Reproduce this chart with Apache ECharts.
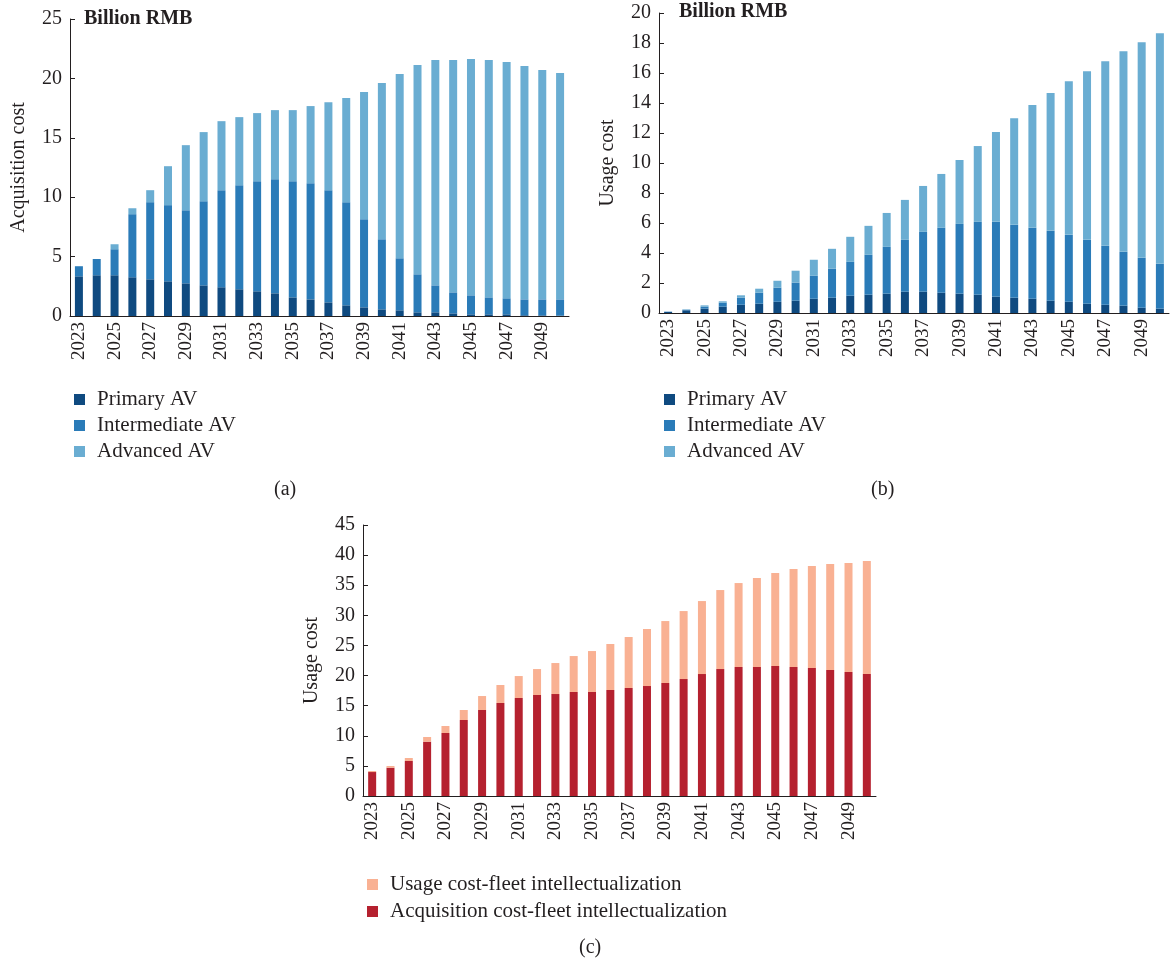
<!DOCTYPE html>
<html>
<head>
<meta charset="utf-8">
<script src="https://cdn.jsdelivr.net/npm/echarts@6/dist/echarts.min.js"></script>
<style>
  html, body { margin: 0; padding: 0; background: #fff; }
  #main { width: 1170px; height: 964px; }
</style>
</head>
<body>
<div id="main"></div>
<script>
// years on every x axis
let years = [];
for (let y = 2023; y <= 2050; y++) years.push(String(y));

// (a) acquisition cost, stacked pieces
let acqPrimary = [3.34, 3.43, 3.43, 3.26, 3.09, 2.92, 2.75, 2.58, 2.42, 2.25, 2.08, 1.91, 1.57, 1.40,
  1.15, 0.90, 0.73, 0.56, 0.48, 0.31, 0.31, 0.22, 0.14, 0.14, 0.14, 0.06, 0.05, 0.03];
let acqIntermediate = [0.85, 1.37, 2.19, 5.31, 6.49, 6.41, 6.15, 7.08, 8.17, 8.76, 9.27, 9.61, 9.78, 9.78,
  9.44, 8.68, 7.42, 5.90, 4.38, 3.20, 2.27, 1.77, 1.60, 1.43, 1.35, 1.34, 1.35, 1.37];
let acqAdvanced = [0, 0, 0.42, 0.50, 1.01, 3.28, 5.48, 5.82, 5.81, 5.73, 5.73, 5.81, 5.98, 6.49,
  7.41, 8.76, 10.70, 13.15, 15.51, 17.61, 18.96, 19.55, 19.89, 19.97, 19.89, 19.64, 19.30, 19.05];

// (b) usage cost, stacked pieces
let usePrimary = [0.07, 0.18, 0.29, 0.42, 0.55, 0.62, 0.75, 0.82, 0.95, 1.02, 1.15, 1.22, 1.29, 1.42,
  1.42, 1.35, 1.29, 1.22, 1.09, 1.02, 0.95, 0.82, 0.75, 0.62, 0.55, 0.49, 0.35, 0.29];
let useIntermediate = [0.02, 0.04, 0.13, 0.27, 0.47, 0.73, 0.94, 1.20, 1.53, 1.93, 2.26, 2.66, 3.12, 3.46,
  3.99, 4.33, 4.65, 4.86, 4.99, 4.86, 4.73, 4.66, 4.46, 4.26, 3.93, 3.59, 3.33, 2.99];
let useAdvanced = [0, 0.02, 0.09, 0.09, 0.16, 0.27, 0.46, 0.80, 1.07, 1.33, 1.67, 1.93, 2.26, 2.66,
  3.06, 3.59, 4.26, 5.05, 5.98, 7.11, 8.18, 9.18, 10.24, 11.24, 12.31, 13.37, 14.37, 15.37];

// (c) fleet totals
let fleetAcq = [3.98, 4.70, 5.81, 9.02, 10.46, 12.62, 14.28, 15.44, 16.27, 16.77, 16.93, 17.27, 17.27, 17.60,
  17.93, 18.26, 18.76, 19.42, 20.25, 21.08, 21.42, 21.42, 21.58, 21.42, 21.25, 20.92, 20.59, 20.25];
let fleetUse = [0.17, 0.28, 0.50, 0.78, 1.16, 1.66, 2.32, 2.99, 3.65, 4.31, 5.15, 5.97, 6.80, 7.64,
  8.47, 9.47, 10.29, 11.29, 12.12, 13.12, 13.94, 14.77, 15.44, 16.27, 16.93, 17.60, 18.09, 18.77];

let avNames = ["Primary AV", "Intermediate AV", "Advanced AV"];
let fleetNames = ["Usage cost-fleet intellectualization", "Acquisition cost-fleet intellectualization"];

const ink = "#231f20";
const font = "Liberation Serif";
const blues = ["#0f4a80", "#2a7bb8", "#6aadd2"];

function xAxisFor(grid) {
  return {
    type: "category",
    gridIndex: grid,
    data: years,
    axisLine: { lineStyle: { color: ink } },
    axisTick: { inside: true, length: 5, interval: 0, lineStyle: { color: ink } },
    axisLabel: { interval: 1, rotate: 90, margin: 6, color: ink, fontFamily: font, fontSize: 19 },
  };
}

function yAxisFor(grid, max, step, name) {
  return {
    type: "value",
    gridIndex: grid,
    min: 0,
    max: max,
    interval: step,
    name: name,
    nameLocation: "middle",
    nameGap: 41,
    nameTextStyle: { color: ink, fontFamily: font, fontSize: 20 },
    axisLine: { show: true, lineStyle: { color: ink } },
    axisTick: { show: true, inside: true, length: 5, lineStyle: { color: ink } },
    axisLabel: { margin: 8, color: ink, fontFamily: font, fontSize: 20 },
    splitLine: { show: false },
  };
}

function bar(name, data, grid, stack, color) {
  return {
    name: name,
    type: "bar",
    xAxisIndex: grid,
    yAxisIndex: grid,
    stack: stack,
    barWidth: 8,
    itemStyle: { color: color },
    data: data,
  };
}

function legendAt(left, top, names, gap) {
  return {
    orient: "vertical",
    left: left,
    top: top,
    data: names,
    icon: "rect",
    itemWidth: 11,
    itemHeight: 11,
    itemGap: gap,
    selectedMode: false,
    textStyle: { color: ink, fontFamily: font, fontSize: 21, padding: [0, 0, 0, 7] },
  };
}

function label(text, left, top, bold) {
  return {
    text: text,
    left: left,
    top: top,
    padding: 0,
    textStyle: { color: ink, fontFamily: font, fontSize: 20, fontWeight: bold ? "bold" : "normal" },
  };
}

var myChart = echarts.init(document.getElementById("main"));

var option = {
  animation: false,
  title: [
    label("Billion RMB", 84, 9, true),
    label("Billion RMB", 679, 2, true),
    label("(a)", 274, 480, false),
    label("(b)", 871, 480, false),
    label("(c)", 579, 938, false),
  ],
  legend: [
    legendAt(69, 384, avNames, 5),
    legendAt(659, 384, avNames, 5),
    legendAt(362, 869, fleetNames, 6),
  ],
  grid: [
    { left: 70, top: 19, width: 499, height: 297 },
    { left: 659, top: 13, width: 510, height: 300 },
    { left: 363, top: 525, width: 513, height: 271 },
  ],
  xAxis: [xAxisFor(0), xAxisFor(1), xAxisFor(2)],
  yAxis: [
    yAxisFor(0, 25, 5, "Acquisition cost"),
    yAxisFor(1, 20, 2, "Usage cost"),
    yAxisFor(2, 45, 5, "Usage cost"),
  ],
  series: [
    bar(avNames[0], acqPrimary, 0, "a", blues[0]),
    bar(avNames[1], acqIntermediate, 0, "a", blues[1]),
    bar(avNames[2], acqAdvanced, 0, "a", blues[2]),
    bar(avNames[0], usePrimary, 1, "b", blues[0]),
    bar(avNames[1], useIntermediate, 1, "b", blues[1]),
    bar(avNames[2], useAdvanced, 1, "b", blues[2]),
    bar(fleetNames[1], fleetAcq, 2, "c", "#b5212f"),
    bar(fleetNames[0], fleetUse, 2, "c", "#f9b193"),
  ],
};

myChart.setOption(option);
</script>
</body>
</html>
